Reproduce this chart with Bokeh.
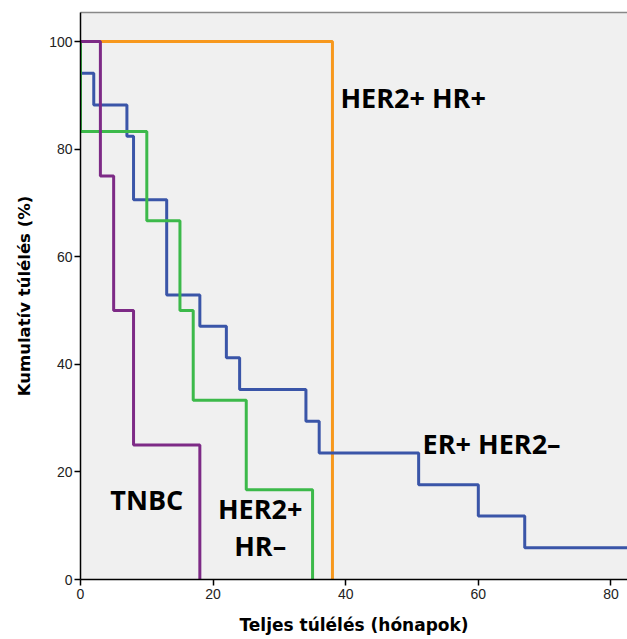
from bokeh.plotting import figure
from bokeh.models import Range1d, LinearAxis, FixedTicker
from bokeh.core.properties import value
from bokeh.embed import file_html
from bokeh.resources import INLINE

# Kaplan-Meier step data (time in months, cumulative survival %)
her2p_hrp_t = [0, 38]
her2p_hrp_s = [100, 0]

tnbc_t = [0, 3, 5, 8, 18]
tnbc_s = [100, 75, 50, 25, 0]

her2p_hrm_t = [0, 0, 10, 15, 17, 25, 35]
her2p_hrm_s = [100, 83.3, 66.7, 50, 33.3, 16.7, 0]

erp_her2m_t = [0, 0, 2, 7, 8, 13, 18, 22, 24, 34, 36, 51, 60, 67, 84]
erp_her2m_s = [100, 94.1, 88.2, 82.4, 70.6, 52.9, 47.1, 41.2, 35.3, 29.4, 23.5, 17.6, 11.8, 5.9, 5.9]

x_ticks = [0, 20, 40, 60, 80]
y_ticks = [0, 20, 40, 60, 80, 100]

group_labels = ["HER2+ HR+", "ER+ HER2–", "TNBC", "HER2+", "HR–"]

p = figure(width=627, height=639, output_backend="svg", toolbar_location=None,
           x_range=Range1d(0, 82.5), y_range=Range1d(0, 105.4),
           min_border_left=80, min_border_top=12, min_border_right=0, min_border_bottom=60)
p.background_fill_color = "#f0f0f0"
p.border_fill_color = "white"
p.outline_line_color = None
p.grid.visible = False

for ax in (p.xaxis[0], p.yaxis[0]):
    ax.major_label_text_font = "Liberation Sans"
    ax.major_label_text_font_size = "14px"
    ax.major_label_text_color = "#222222"
    ax.axis_line_color = "black"
    ax.axis_line_width = 1.5
    ax.major_tick_line_color = "black"
    ax.major_tick_line_width = 1.5
    ax.major_tick_out = 6
    ax.major_tick_in = 0
    ax.minor_tick_line_color = None
    ax.axis_label_text_font = "DejaVu Sans"
    ax.axis_label_text_font_style = "bold"
    ax.axis_label_text_color = "black"

p.xaxis.ticker = FixedTicker(ticks=x_ticks)
p.yaxis.ticker = FixedTicker(ticks=y_ticks)
p.xaxis.axis_label = "Teljes túlélés (hónapok)"
p.yaxis.axis_label = "Kumulatív túlélés (%)"
p.xaxis.axis_label_text_font_size = "17px"
p.yaxis.axis_label_text_font_size = "16.5px"
p.xaxis.axis_label_standoff = 13
p.yaxis.axis_label_standoff = 12
p.xaxis.major_label_standoff = 3
p.yaxis.major_label_standoff = 2

top = LinearAxis(ticker=FixedTicker(ticks=[]), major_label_text_font_size="0px",
                 axis_line_color="#888888", axis_line_width=1.5,
                 major_tick_line_color=None, minor_tick_line_color=None)
p.add_layout(top, "above")

lw = 3
p.step(her2p_hrp_t, her2p_hrp_s, mode="after", line_color="#F7981D", line_width=lw)
p.step(erp_her2m_t, erp_her2m_s, mode="after", line_color="#3A55A8", line_width=lw)
p.step(her2p_hrm_t, her2p_hrm_s, mode="after", line_color="#3CB94A", line_width=lw)
p.step(tnbc_t, tnbc_s, mode="after", line_color="#7D2A86", line_width=lw)

lx = [39.2, 51.6, 4.5, 27.1, 27.1]
ly = [89.6, 25.3, 14.9, 13.2, 6.3]
la = ["left", "left", "left", "center", "center"]
p.text(x=lx, y=ly, text=group_labels, text_align=la, text_baseline="middle",
       text_font=value("Open Sans"), text_font_style="bold", text_font_size="27px",
       text_color="black")

open("out.html", "w").write(file_html(p, INLINE))
